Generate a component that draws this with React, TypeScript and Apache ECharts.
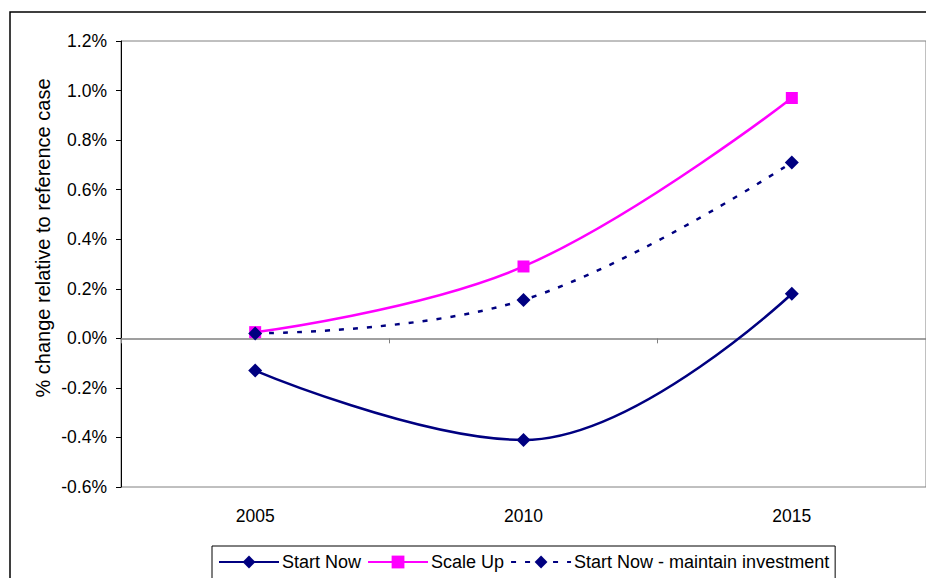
import React, { useEffect, useRef } from "react";
import * as echarts from "echarts";

const years = ["2005", "2010", "2015"];
const startNow = [-0.13, -0.41, 0.18];
const scaleUp = [0.025, 0.29, 0.97];
const maintain = [0.02, 0.155, 0.71];
const seriesNames = ["Start Now", "Scale Up", "Start Now - maintain investment"];
const yAxisTitle = "% change relative to reference case";

const FONT = "'Liberation Sans', Arial, sans-serif";

export default function App() {
  const ref = useRef<HTMLDivElement>(null);
  useEffect(() => {
    if (!ref.current) return;
    const chart = echarts.init(ref.current, null, { renderer: "svg" });
    chart.setOption({
      animation: false,
      backgroundColor: "#ffffff",
      textStyle: { fontFamily: FONT },
      graphic: [
        {
          type: "polyline",
          shape: { points: [[10, 600], [10, 12], [940, 12]] },
          style: { fill: "none", stroke: "#000000", lineWidth: 1.5 },
          z: 0,
        },
        {
          type: "text",
          x: 43,
          y: 238,
          rotation: Math.PI / 2,
          style: {
            text: yAxisTitle,
            fontFamily: FONT,
            fontSize: 20,
            fill: "#000000",
            align: "center",
            verticalAlign: "middle",
          },
        },
      ],
      grid: {
        left: 121,
        top: 41,
        width: 812,
        height: 446,
        show: true,
        borderColor: "#808080",
        borderWidth: 1,
        backgroundColor: "transparent",
      },
      legend: {
        left: 212,
        top: 546,
        width: 623,
        orient: "horizontal",
        padding: [7, 6, 10, 6],
        borderColor: "#000000",
        borderWidth: 1,
        itemWidth: 60,
        itemHeight: 16,
        itemGap: 6,
        textStyle: { fontFamily: FONT, fontSize: 18, color: "#000000", padding: [0, 0, 0, -2] },
        data: seriesNames,
      },
      xAxis: [
        {
          type: "category",
          data: years,
          position: "bottom",
          boundaryGap: true,
          axisLine: { show: false, onZero: false },
          axisTick: { show: false },
          axisLabel: { margin: 20, fontSize: 17.5, color: "#000000", fontFamily: FONT },
          splitLine: { show: false },
        },
        {
          type: "category",
          data: years,
          position: "bottom",
          boundaryGap: true,
          axisLine: { show: true, onZero: true, onZeroAxisIndex: 0, lineStyle: { color: "#808080", width: 1.5 } },
          axisTick: { show: true, length: 5, lineStyle: { color: "#808080", width: 1 } },
          axisLabel: { show: false },
          splitLine: { show: false },
        },
      ],
      yAxis: {
        type: "value",
        min: -0.6,
        max: 1.2,
        interval: 0.2,
        axisLine: { show: true, onZero: false, lineStyle: { color: "#000000", width: 1 } },
        axisTick: { show: true, length: 5, lineStyle: { color: "#000000" } },
        axisLabel: {
          margin: 14,
          fontSize: 17.5,
          color: "#000000",
          fontFamily: FONT,
          formatter: (v: number) => v.toFixed(1) + "%",
        },
        splitLine: { show: false },
      },
      series: [
        {
          name: seriesNames[0],
          type: "line",
          data: startNow,
          smooth: 0.4,
          symbol: "diamond",
          symbolSize: 14,
          color: "#000080",
          lineStyle: { color: "#000080", width: 2.5 },
          itemStyle: { color: "#000080" },
          z: 3,
        },
        {
          name: seriesNames[1],
          type: "line",
          data: scaleUp,
          smooth: 0.4,
          symbol: "rect",
          symbolSize: 12,
          color: "#FF00FF",
          lineStyle: { color: "#FF00FF", width: 2.5 },
          itemStyle: { color: "#FF00FF" },
          z: 4,
        },
        {
          name: seriesNames[2],
          type: "line",
          data: maintain,
          smooth: 0.4,
          symbol: "diamond",
          symbolSize: 14,
          color: "#000080",
          lineStyle: { color: "#000080", width: 2.5, type: [5, 9] },
          itemStyle: { color: "#000080" },
          z: 5,
        },
      ],
    });
    return () => chart.dispose();
  }, []);
  return <div ref={ref} style={{ width: 926, height: 578, position: "absolute", left: 0, top: 0 }} />;
}
